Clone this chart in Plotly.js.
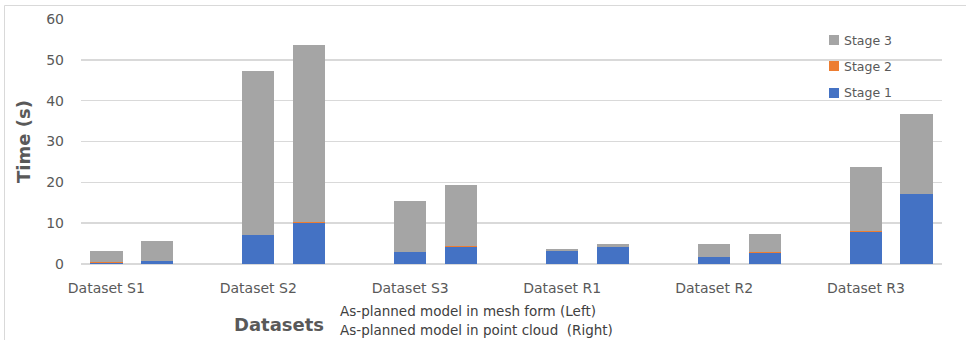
<!DOCTYPE html>
<html>
<head>
<meta charset="utf-8">
<script src="https://cdn.plot.ly/plotly-3.0.1.min.js"></script>
<style>
  html, body { margin: 0; padding: 0; background: #ffffff; }
  #chart { width: 966px; height: 340px; }
</style>
</head>
<body>
<div id="chart"></div>
<script>
// Processing time per dataset, split by stage.
// Left bar of each pair: as-planned model in mesh form; right bar: point cloud.
const datasets = ['Dataset S1', 'Dataset S2', 'Dataset S3', 'Dataset R1', 'Dataset R2', 'Dataset R3'];

const stage1Mesh  = [0.3, 7.1, 2.9, 3.2, 1.7, 7.85];
const stage2Mesh  = [0.3, 0.1, 0.1, 0.05, 0.1, 0.2];
const stage3Mesh  = [2.5, 40.1, 12.35, 0.45, 3.0, 15.7];

const stage1Cloud = [0.7, 10.0, 4.2, 4.1, 2.6, 17.2];
const stage2Cloud = [0.1, 0.4, 0.3, 0.05, 0.3, 0.05];
const stage3Cloud = [4.9, 43.2, 14.85, 0.85, 4.45, 19.45];

const stageNames  = ['Stage 1', 'Stage 2', 'Stage 3'];
const stageColors = ['#4472C4', '#ED7D31', '#A5A5A5'];

const yTicks = [0, 10, 20, 30, 40, 50, 60];

// Each dataset occupies three slots on the x axis: mesh bar, cloud bar, gap.
const meshPos  = datasets.map((d, i) => 3 * i);
const cloudPos = datasets.map((d, i) => 3 * i + 1);

const stageData = [
  [stage1Mesh, stage1Cloud],
  [stage2Mesh, stage2Cloud],
  [stage3Mesh, stage3Cloud]
];

const traces = stageData.map((pair, s) => ({
  type: 'bar',
  name: stageNames[s],
  x: meshPos.concat(cloudPos),
  y: pair[0].concat(pair[1]),
  width: 0.64,
  marker: { color: stageColors[s], line: { width: 0 } },
  showlegend: false,
  hovertemplate: stageNames[s] + ': %{y}<extra></extra>'
}));

// Plot area geometry (pixels) used to place the legend and frame.
const W = 966, H = 340;
const M = { l: 81, r: 24, t: 19, b: 76 };
const pw = W - M.l - M.r, ph = H - M.t - M.b;
const px = x => (x - M.l) / pw;
const py = y => (H - M.b - y) / ph;

const textColor = '#595959';
const font = 'DejaVu Sans, Arial, sans-serif';

const shapes = [
  // outer chart frame
  { type: 'rect', xref: 'paper', yref: 'paper',
    x0: px(4.5), x1: px(972), y0: py(348), y1: py(5.5),
    line: { color: '#D9D9D9', width: 1 }, fillcolor: 'rgba(0,0,0,0)', layer: 'below' }
];
const annotations = [];

// Legend, top entry = last stage
const legendRows = [93, 66, 40];
stageNames.forEach((name, s) => {
  const cy = legendRows[s];
  shapes.push({ type: 'rect', xref: 'paper', yref: 'paper',
    x0: px(829), x1: px(839), y0: py(cy + 5), y1: py(cy - 5),
    fillcolor: stageColors[s], line: { width: 0 } });
  annotations.push({ xref: 'paper', yref: 'paper', x: px(842), y: py(cy),
    xanchor: 'left', yanchor: 'middle', showarrow: false, text: name,
    font: { family: font, size: 12.5, color: textColor } });
});

// Axis title and note under the category labels
annotations.push({ xref: 'paper', yref: 'paper', x: px(279), y: py(324),
  xanchor: 'center', yanchor: 'middle', showarrow: false, text: '<b>Datasets</b>',
  font: { family: font, size: 18, color: textColor } });
annotations.push({ xref: 'paper', yref: 'paper', x: px(338), y: py(311),
  xanchor: 'left', yanchor: 'middle', showarrow: false,
  text: 'As-planned model in mesh form (Left)',
  font: { family: font, size: 13.5, color: '#404040' } });
annotations.push({ xref: 'paper', yref: 'paper', x: px(338), y: py(330),
  xanchor: 'left', yanchor: 'middle', showarrow: false,
  text: 'As-planned model in point cloud&nbsp;&nbsp;(Right)',
  font: { family: font, size: 13.5, color: '#404040' } });

const layout = {
  width: W, height: H,
  margin: M,
  paper_bgcolor: '#ffffff',
  plot_bgcolor: '#ffffff',
  barmode: 'stack',
  showlegend: false,
  font: { family: font, color: textColor },
  xaxis: {
    range: [-0.5, 3 * datasets.length - 1.5],
    tickvals: meshPos,
    ticktext: datasets,
    showgrid: false, zeroline: false, showline: false,
    ticks: '', ticklabelstandoff: 14,
    tickfont: { family: font, size: 14, color: textColor },
    fixedrange: true
  },
  yaxis: {
    range: [0, 60],
    tickvals: yTicks,
    showgrid: true, gridcolor: '#D9D9D9', gridwidth: 1.5,
    zeroline: true, zerolinecolor: '#D9D9D9', zerolinewidth: 1.5,
    showline: false, ticks: '', ticklabelstandoff: 16,
    tickfont: { family: font, size: 14, color: textColor },
    title: { text: '<b>Time (s)</b>', font: { family: font, size: 18, color: textColor }, standoff: 10 },
    fixedrange: true
  },
  shapes: shapes,
  annotations: annotations
};

Plotly.newPlot('chart', traces, layout, { displayModeBar: false, staticPlot: true });
</script>
</body>
</html>
